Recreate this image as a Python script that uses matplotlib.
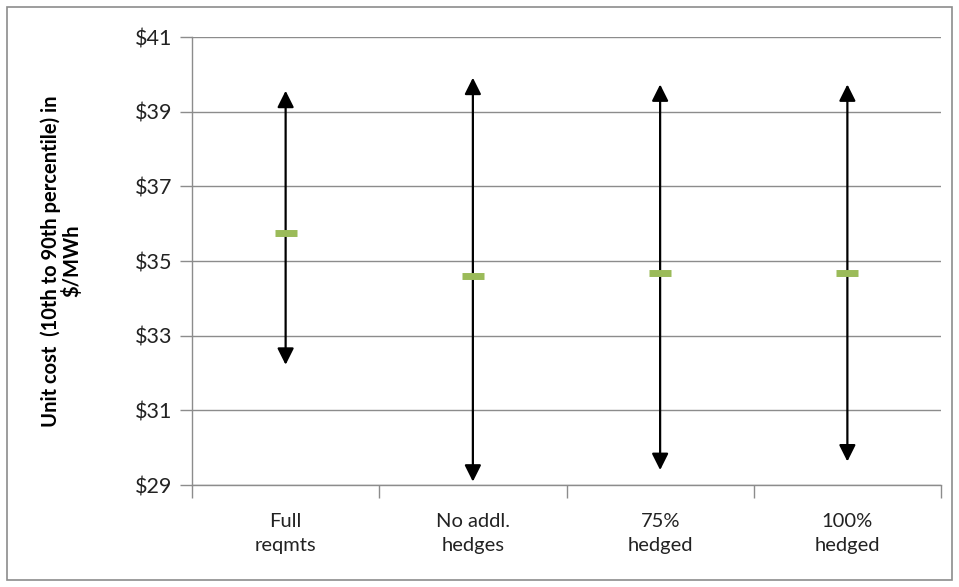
import numpy as np
import matplotlib
matplotlib.use("Agg")
import matplotlib.pyplot as plt
from matplotlib.patches import Rectangle
from matplotlib.ticker import FuncFormatter

# data ($/MWh)
categories = ["Full\nreqmts", "No addl.\nhedges", "75%\nhedged", "100%\nhedged"]
p90 = [39.56, 39.91, 39.73, 39.73]
p10 = [32.22, 29.09, 29.40, 29.63]
median = [35.74, 34.59, 34.68, 34.68]
yticks = [29, 31, 33, 35, 37, 39, 41]

plt.rcParams['font.family'] = ['Lato', 'DejaVu Sans']

W, H = 959, 587
fig = plt.figure(figsize=(W / 100, H / 100), dpi=100)
ax = fig.add_axes([192 / W, 1 - 485 / H, (941 - 192) / W, (485 - 37) / H])

grid_col = '#8c8c8c'
x = np.arange(len(categories))

# arrows from 10th to 90th percentile
for xi, lo, hi in zip(x, p10, p90):
    ax.annotate('', xy=(xi, hi), xytext=(xi, lo),
                arrowprops=dict(arrowstyle='<|-|>,head_length=1.0,head_width=0.5',
                                mutation_scale=10, color='black', lw=1.6,
                                shrinkA=0, shrinkB=0), zorder=3)

# median marks
ax.plot(x, median, linestyle='none', marker='_', markersize=16,
        markeredgewidth=5, color='#9bbb59', zorder=4)

ax.set_xlim(-0.5, len(categories) - 0.5)
ax.set_ylim(29, 41)
ax.set_yticks(yticks)
ax.yaxis.set_major_formatter(FuncFormatter(lambda v, p: f"${v:.0f}"))
ax.yaxis.grid(True, color=grid_col, lw=1)
ax.set_axisbelow(True)

ax.set_xticks(x)
ax.set_xticklabels(categories, fontsize=14.5, color='#222222', linespacing=1.5)
ax.set_xticks(np.arange(-0.5, len(categories)), minor=True)
ax.tick_params(axis='x', which='major', length=0, pad=20)
ax.tick_params(axis='x', which='minor', length=9, color=grid_col, width=1)
ax.tick_params(axis='y', length=9, color=grid_col, width=1, labelsize=15.5,
               labelcolor='#222222', pad=5)

for s in ['top', 'right']:
    ax.spines[s].set_visible(False)
for s in ['left', 'bottom']:
    ax.spines[s].set_color(grid_col)
    ax.spines[s].set_linewidth(1)

ax.set_ylabel("Unit cost  (10th to 90th percentile) in\n$/MWh", fontsize=14.5,
              fontweight='bold', labelpad=38, linespacing=1.0)

# outer chart border
fig.patches.append(Rectangle((7 / W, 1 - 580 / H), (952 - 7) / W, (580 - 7) / H,
                             transform=fig.transFigure, fill=False,
                             edgecolor='#8c8c8c', lw=1.2))

fig.savefig("out.png", dpi=100)
